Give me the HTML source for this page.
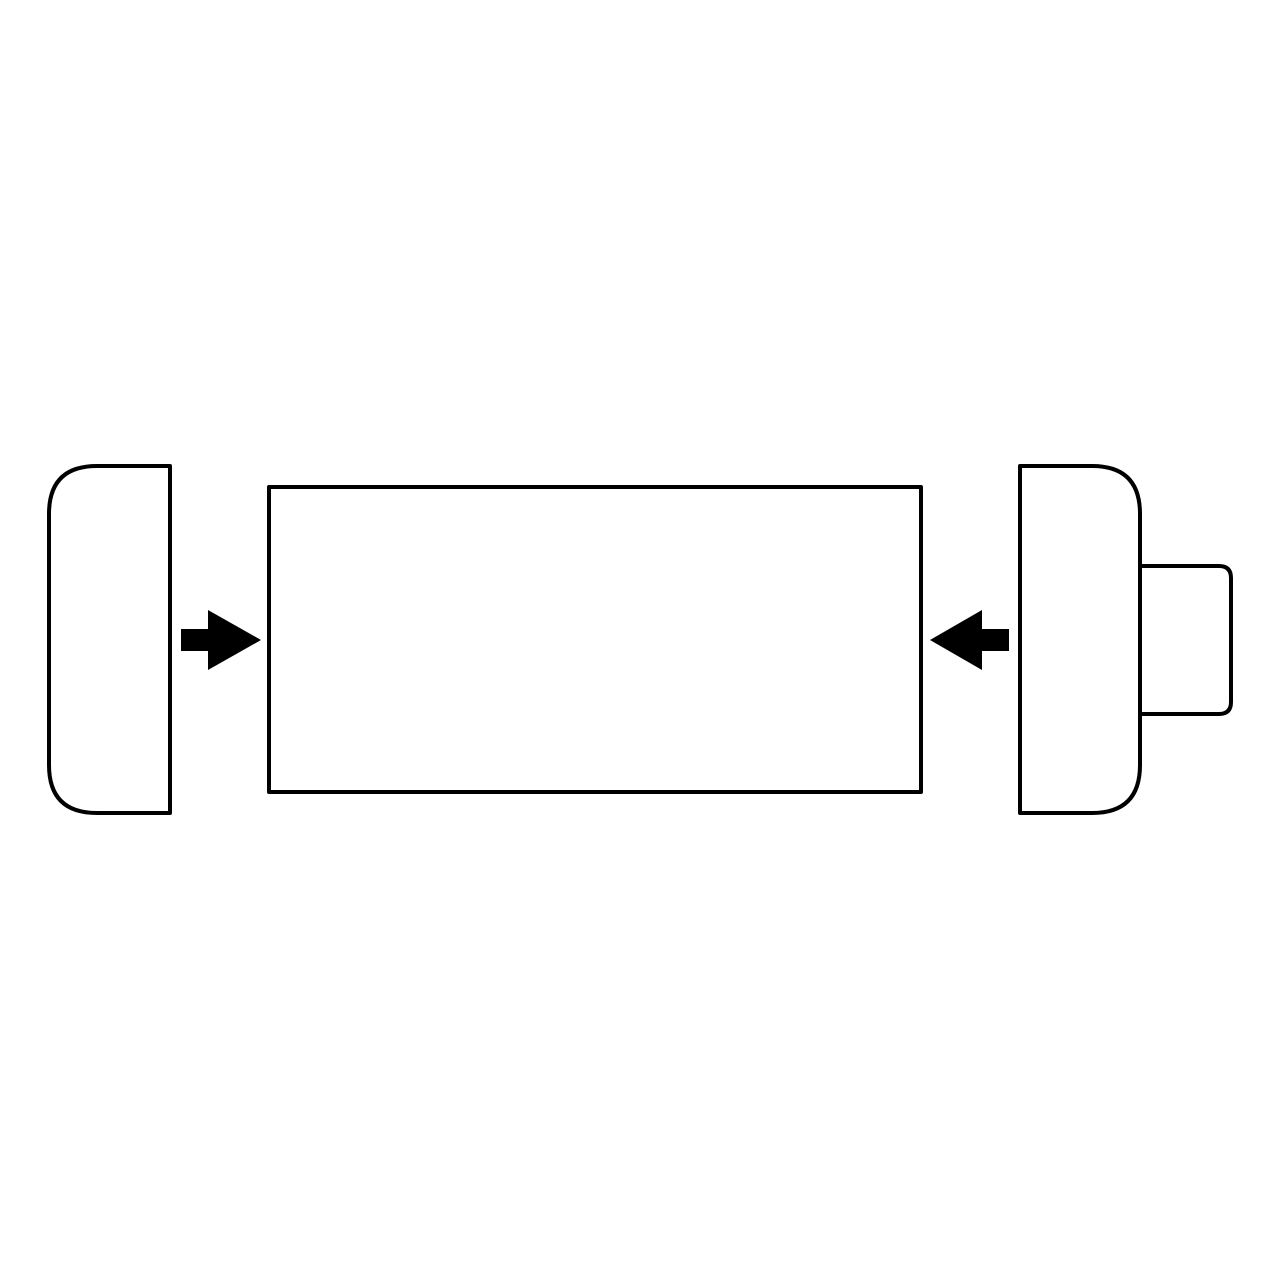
<!DOCTYPE html>
<html>
<head>
<meta charset="utf-8">
<style>
  html, body { margin: 0; padding: 0; background: #fff; }
  svg { display: block; }
</style>
</head>
<body>
<svg width="1280" height="1280" viewBox="0 0 1280 1280">
  <rect x="0" y="0" width="1280" height="1280" fill="#fff"/>
  <g fill="#fff" stroke="#000" stroke-width="4" stroke-linejoin="round">
    <path
      d="M170,466 L97,466 Q49,466 49,514 L49,765 Q49,813 97,813 L170,813 Z"/>
    <rect
      x="269" y="487" width="652" height="305"/>
    <path
      d="M1138,566 L1219,566 Q1231,566 1231,578 L1231,702 Q1231,714 1219,714 L1138,714"/>
    <path
      d="M1020,466 L1092,466 Q1140,466 1140,514 L1140,765 Q1140,813 1092,813 L1020,813 Z"/>
  </g>
  <g fill="#000">
    <path
      d="M181,629 L208,629 L208,610 L261,640 L208,670 L208,651 L181,651 Z"/>
    <path
      d="M1009,629 L982,629 L982,610 L930,640 L982,670 L982,651 L1009,651 Z"/>
  </g>
</svg>
</body>
</html>
